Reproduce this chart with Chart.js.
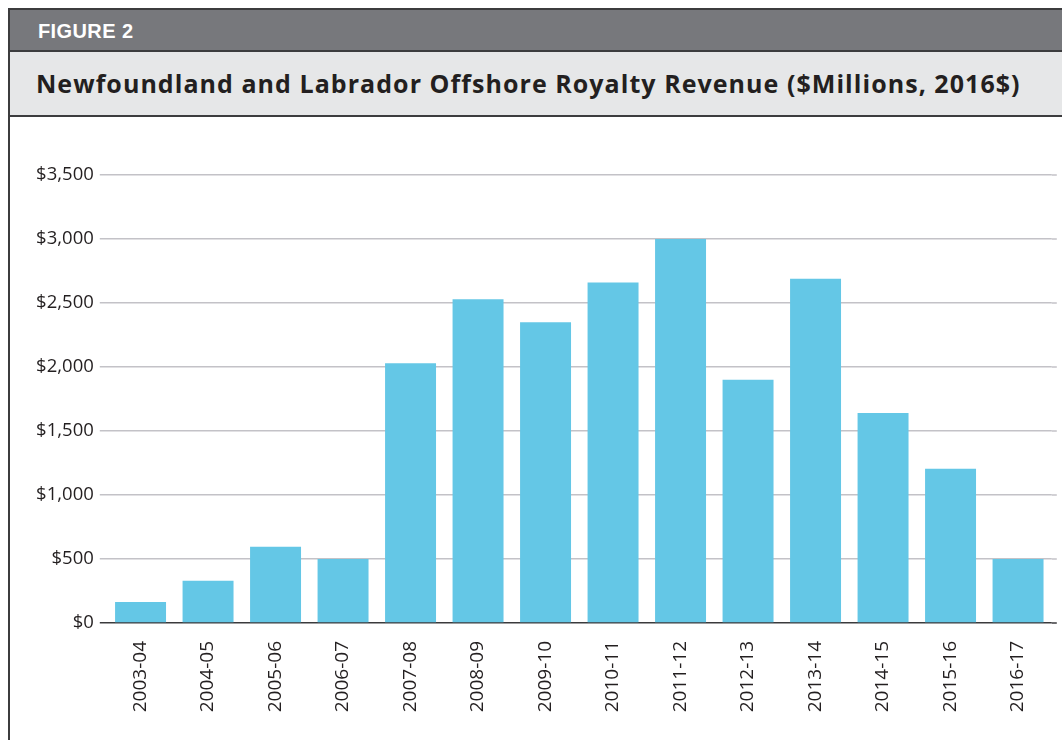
<!DOCTYPE html>
<html>
<head>
<meta charset="utf-8">
<script src="https://cdn.jsdelivr.net/npm/chart.js@4"></script>
<style>
  html, body { margin: 0; padding: 0; background: #fff; overflow: hidden; }
  body { width: 1062px; height: 740px; position: relative; }
  #frame { position: absolute; left: 8px; top: 8px; width: 1100px; height: 760px;
           border-left: 2px solid #3c3c3e; border-top: 2px solid #3c3c3e; }
  #fig { background: #77787c; border-bottom: 2px solid #3c3c3e;
         color: #fff; font: bold 20px "Liberation Sans", Arial, sans-serif; letter-spacing: 0.4px;
         line-height: 42px; padding-left: 28px; box-sizing: border-box; height: 42px; }
  #title { height: 65px; background: #e6e7e8; border-bottom: 2px solid #3c3c3e;
           color: #231f20; font: bold 25px "Open Sans", sans-serif; letter-spacing: 1.05px;
           line-height: 62px; padding-left: 26px; box-sizing: border-box; }
  #wrap { position: absolute; left: 10px; top: 117px; width: 1052px; height: 623px; }
</style>
</head>
<body>
<div id="frame">
  <div id="fig">FIGURE 2</div>
  <div id="title">Newfoundland and Labrador Offshore Royalty Revenue ($Millions, 2016$)</div>
</div>
<div id="wrap"><canvas id="royalty-chart"></canvas></div>
<script>
const years = [
  "2003-04", "2004-05", "2005-06", "2006-07", "2007-08", "2008-09", "2009-10",
  "2010-11", "2011-12", "2012-13", "2013-14", "2014-15", "2015-16", "2016-17",
];
const royalties = [165, 330, 595, 500, 2030, 2530, 2350, 2660, 3000, 1900, 2690, 1640, 1205, 500];
const yTicks = [0, 500, 1000, 1500, 2000, 2500, 3000, 3500];

const royaltyCanvas = document.querySelector("#royalty-chart");

// stretch the gridlines a few px past the last bar, like the original
const gridTail = {
  id: "gridTail",
  beforeDatasetsDraw(chart) {
    const { ctx, chartArea, scales } = chart;
    ctx.save();
    yTicks.forEach((v) => {
      const y = scales.y.getPixelForValue(v);
      ctx.strokeStyle = v === 0 ? "#3a3a3c" : "#c3c2c7";
      ctx.lineWidth = 1.5;
      ctx.beginPath();
      ctx.moveTo(chartArea.right, y);
      ctx.lineTo(chartArea.right + 5, y);
      ctx.stroke();
    });
    ctx.restore();
  },
};

const royaltyChart = new Chart(royaltyCanvas, {
  type: "bar",
  data: {
    labels: years,
    datasets: [
      {
        label: "Royalty revenue",
        data: royalties,
        backgroundColor: "#64c7e6",
        barPercentage: 0.755,
        categoryPercentage: 1,
      },
    ],
  },
  options: {
    responsive: true,
    maintainAspectRatio: false,
    animation: false,
    layout: { padding: { top: 58, right: 10.2, left: 0, bottom: 0 } },
    plugins: {
      legend: { display: false },
      tooltip: { enabled: false },
    },
    scales: {
      x: {
        grid: { display: false, drawTicks: false },
        border: { display: false },
        ticks: {
          color: "#231f20",
          font: { family: "Open Sans", size: 19 },
          minRotation: 90,
          maxRotation: 90,
          padding: 18,
          autoSkip: false,
        },
        afterFit: (scale) => { scale.height = 117; },
      },
      y: {
        min: 0,
        max: 3500,
        afterBuildTicks: (scale) => { scale.ticks = yTicks.map((v) => ({ value: v })); },
        grid: {
          color: (ctx) => (ctx.tick && ctx.tick.value === 0 ? "#3a3a3c" : "#c3c2c7"),
          lineWidth: 1.5,
          tickLength: 7,
        },
        border: { display: false },
        ticks: {
          color: "#231f20",
          font: { family: "Open Sans", size: 18.5 },
          padding: 6,
          callback: (v) => "$" + v.toLocaleString("en-US"),
        },
        afterFit: (scale) => { scale.width = 96.8; },
      },
    },
  },
  plugins: [gridTail],
});
</script>
</body>
</html>
